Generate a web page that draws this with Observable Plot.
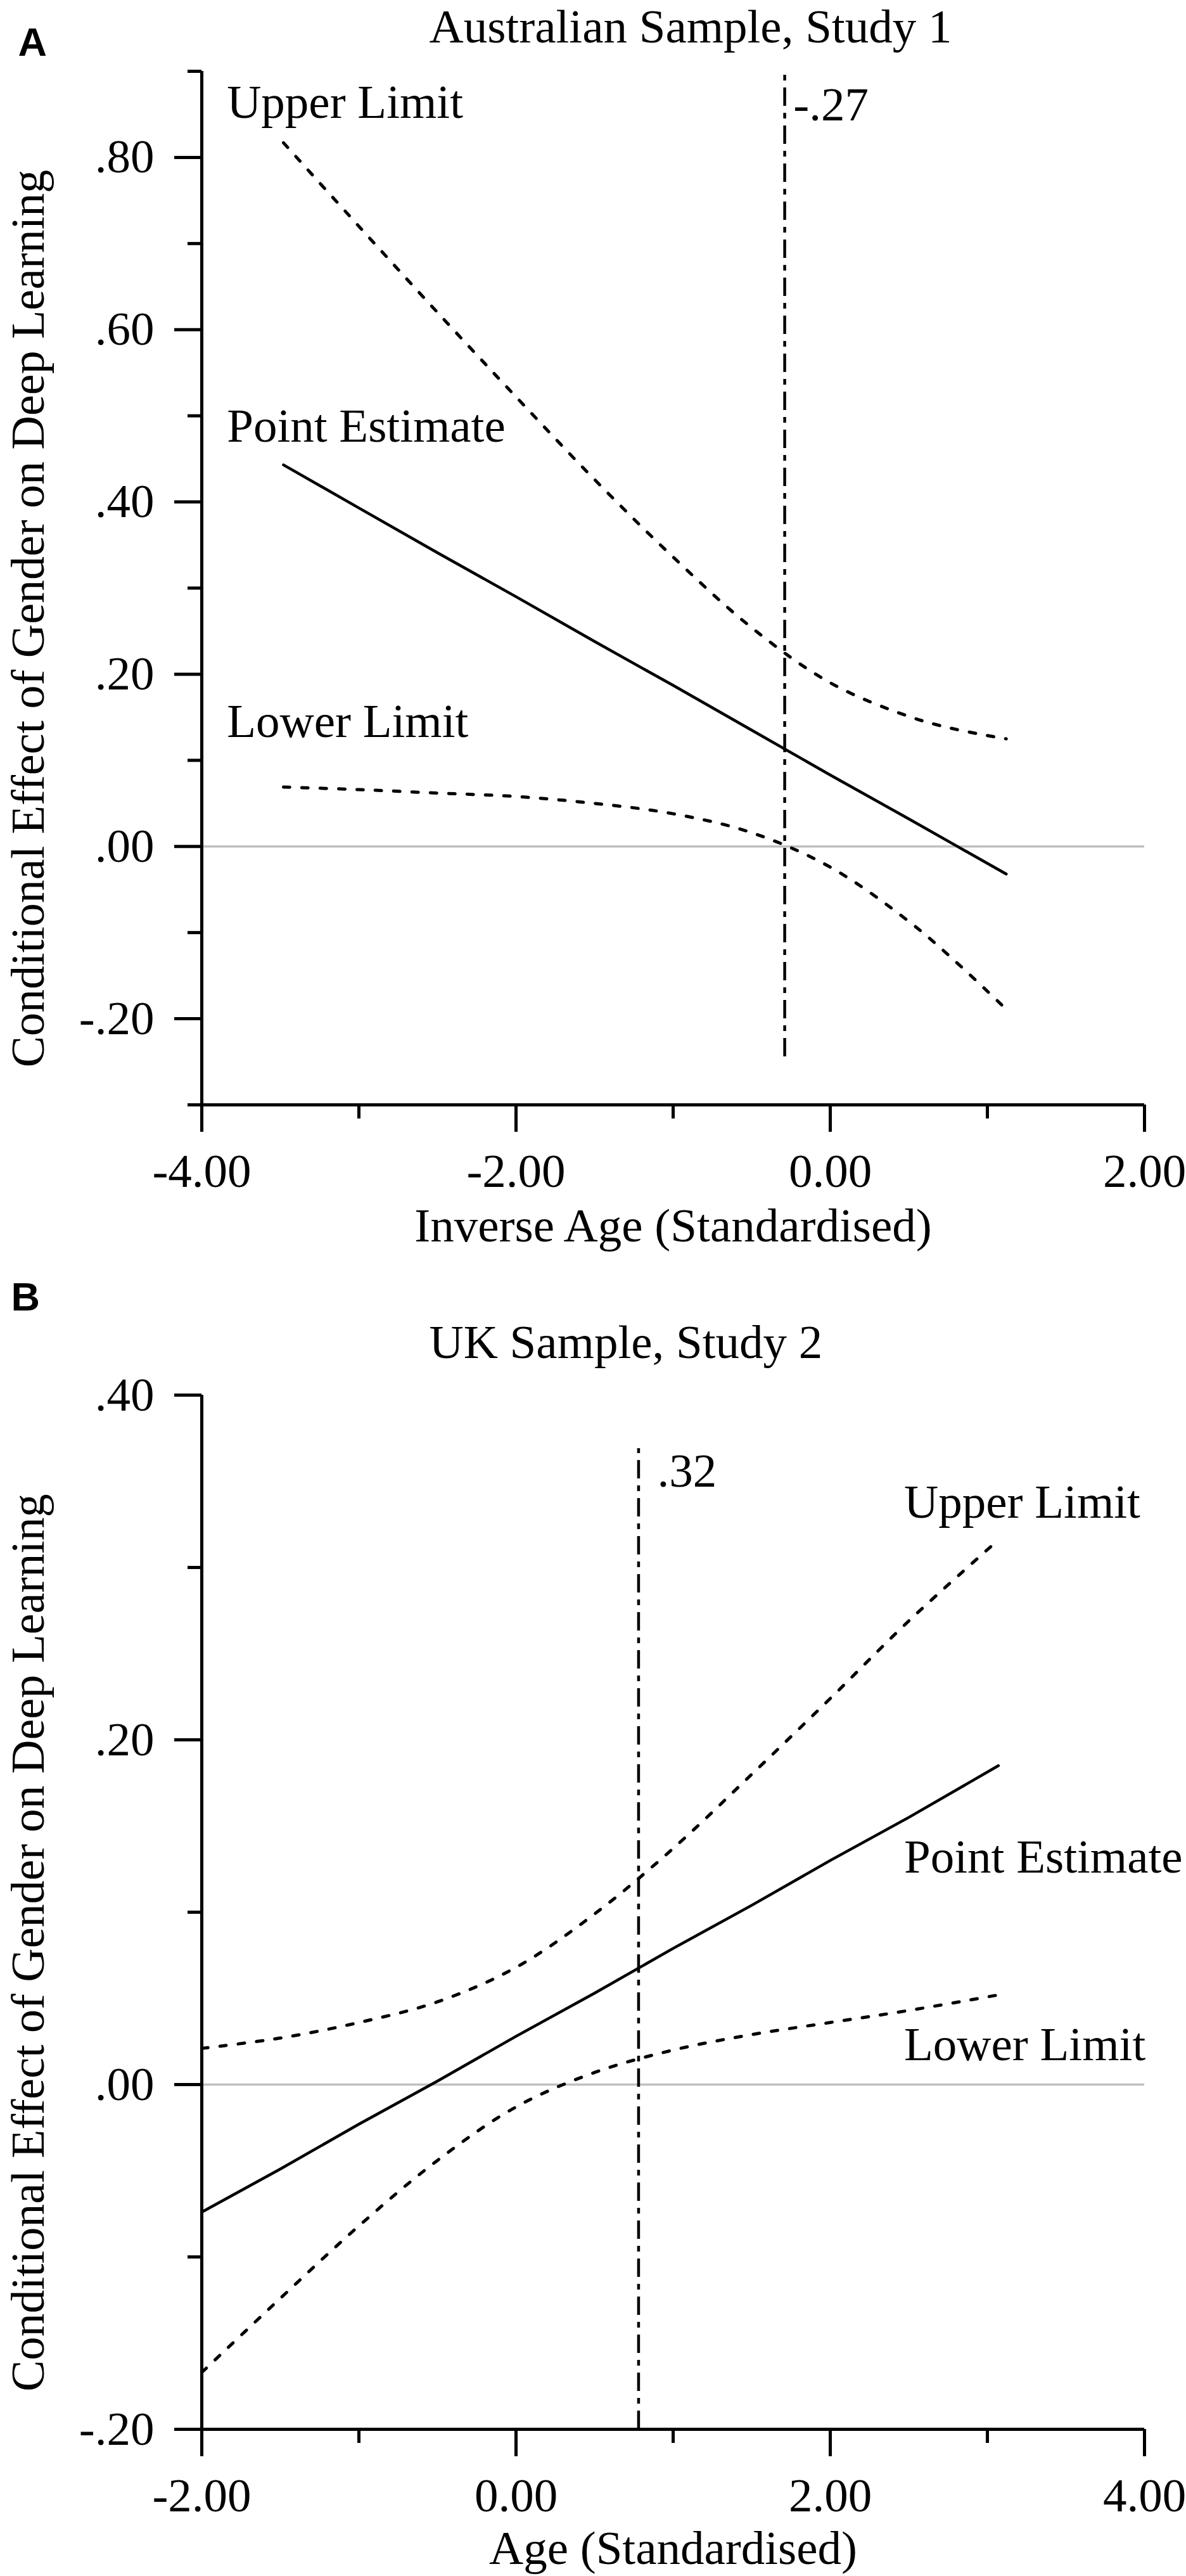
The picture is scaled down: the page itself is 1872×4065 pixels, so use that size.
<!DOCTYPE html>
<html>
<head>
<meta charset="utf-8">
<script src="https://cdn.jsdelivr.net/npm/d3@7"></script>
<script src="https://cdn.jsdelivr.net/npm/@observablehq/plot@0.6"></script>
<style>
  html, body { margin: 0; padding: 0; background: #ffffff; }
  #wrap { width: 1872px; }
  #wrap svg { display: block; }
</style>
</head>
<body>
<div id="wrap"></div>
<script>
// ---------- Panel A: Australian Sample, Study 1 ----------
const titleA = "Australian Sample, Study 1";
const xTitleA = "Inverse Age (Standardised)";
const xA      = [-3.48, -3.0, -2.5, -2.0, -1.5, -1.0, -0.5, 0.0, 0.5, 0.8, 1.12];
const pointA  = [0.443, 0.393, 0.341, 0.290, 0.238, 0.187, 0.135, 0.083, 0.032, 0.001, -0.032];
const upperA  = [0.817, 0.720, 0.620, 0.522, 0.426, 0.336, 0.254, 0.190, 0.151, 0.136, 0.125];
const lowerA  = [0.069, 0.066, 0.062, 0.058, 0.050, 0.038, 0.016, -0.024, -0.087, -0.134, -0.189];
const jnA     = [{x: -0.29, y1: -0.244, y2: 0.896}];
const labelsA = [
  {text: "Upper Limit",    x: -3.84, y: 0.846},
  {text: "Point Estimate", x: -3.84, y: 0.470},
  {text: "Lower Limit",    x: -3.84, y: 0.127},
  {text: "-.27",           x: -0.235, y: 0.843}
];
const xDomainA = [-4, 2];
const yDomainA = [-0.3, 0.9];
const xMajorA = [-4, -2, 0, 2];
const xMinorA = [-3, -1, 1];
const yMajorA = [-0.2, 0, 0.2, 0.4, 0.6, 0.8];
const yMinorA = [-0.3, -0.1, 0.1, 0.3, 0.5, 0.7, 0.9];

// ---------- Panel B: UK Sample, Study 2 ----------
const titleB = "UK Sample, Study 2";
const xTitleB = "Age (Standardised)";
const xB      = [-2.0, -1.5, -1.0, -0.5, 0.0, 0.5, 1.0, 1.5, 2.0, 2.5, 3.07];
const pointB  = [-0.074, -0.049, -0.023, 0.002, 0.028, 0.053, 0.079, 0.104, 0.130, 0.155, 0.185];
const upperB  = [0.021, 0.027, 0.036, 0.048, 0.068, 0.099, 0.137, 0.180, 0.224, 0.269, 0.316];
const lowerB  = [-0.167, -0.124, -0.082, -0.044, -0.013, 0.007, 0.020, 0.029, 0.036, 0.043, 0.052];
const jnB     = [{x: 0.78, y1: -0.2, y2: 0.369}];
const labelsB = [
  {text: "Upper Limit",    x: 2.47, y: 0.329},
  {text: "Point Estimate", x: 2.47, y: 0.123},
  {text: "Lower Limit",    x: 2.47, y: 0.014},
  {text: ".32",            x: 0.899, y: 0.347}
];
const xDomainB = [-2, 4];
const yDomainB = [-0.2, 0.4];
const xMajorB = [-2, 0, 2, 4];
const xMinorB = [-1, 1, 3];
const yMajorB = [-0.2, 0, 0.2, 0.4];
const yMinorB = [-0.1, 0.1, 0.3];

const yTitle = "Conditional Effect of Gender on Deep Learning";

const fmtY = d => d.toFixed(2).replace(/^(-?)0\./, "$1.");
const fmtX = d => d.toFixed(2);
const blank = () => "";
const SERIF = '"Liberation Serif", "Times New Roman", Times, serif';
const SANS = '"Liberation Sans", Arial, Helvetica, sans-serif';

function panel(cfg) {
  const toRows = ys => cfg.xs.map((x, i) => ({x, y: ys[i]}));
  const up = toRows(cfg.upper), lo = toRows(cfg.lower), pt = toRows(cfg.point);
  return Plot.plot({
    width: 1872,
    height: cfg.height,
    marginLeft: 318,
    marginRight: 66,
    marginTop: cfg.mt,
    marginBottom: cfg.mb,
    x: {domain: cfg.xDomain, axis: null},
    y: {domain: cfg.yDomain, axis: null},
    style: {fontFamily: SERIF, fontSize: "75px", background: "#ffffff", color: "#000000", overflow: "visible"},
    marks: [
      Plot.ruleY([0], {stroke: "#c0c0c0", strokeWidth: 3.5}),
      Plot.ruleX(cfg.jn, {x: "x", y1: "y1", y2: "y2", stroke: "#000", strokeWidth: 4.5, strokeDasharray: "29,11,9,11"}),
      Plot.line(up, {x: "x", y: "y", curve: "catmull-rom", stroke: "#000", strokeWidth: 5, strokeDasharray: "10,19"}),
      Plot.line(lo, {x: "x", y: "y", curve: "catmull-rom", stroke: "#000", strokeWidth: 5, strokeDasharray: "10,19"}),
      Plot.line(pt, {x: "x", y: "y", stroke: "#000", strokeWidth: 4.5}),
      Plot.ruleX([cfg.xDomain[0]], {y1: cfg.yDomain[0], y2: cfg.yDomain[1], stroke: "#000", strokeWidth: 5}),
      Plot.ruleY([cfg.yDomain[0]], {x1: cfg.xDomain[0], x2: cfg.xDomain[1], stroke: "#000", strokeWidth: 5}),
      Plot.axisY(cfg.yMinor, {tickSize: 22, tickFormat: blank, strokeWidth: 5, label: null}),
      Plot.axisY(cfg.yMajor, {tickSize: 43, tickPadding: 32, tickFormat: fmtY, strokeWidth: 5, label: null, fontSize: 75}),
      Plot.axisX(cfg.xMinor, {tickSize: 22, tickFormat: blank, strokeWidth: 5, label: null}),
      Plot.axisX(cfg.xMajor, {tickSize: 43, tickPadding: 33, tickFormat: fmtX, strokeWidth: 5, label: null, fontSize: 75}),
      Plot.text(cfg.labels, {x: "x", y: "y", text: "text", textAnchor: "start", lineAnchor: "bottom", fontSize: 75, fill: "#000"}),
      Plot.text([cfg.title], {text: d => d, frameAnchor: "top-left", dx: 359, dy: cfg.titleDy, textAnchor: "start", lineAnchor: "bottom", fontSize: 75, fill: "#000"}),
      Plot.text([cfg.letter], {text: d => d, frameAnchor: "top-left", dx: cfg.letterDx, dy: cfg.letterDy, textAnchor: "start", lineAnchor: "bottom", fontSize: 63, fontWeight: "bold", fontFamily: SANS, fill: "#000"}),
      Plot.text([yTitle], {text: d => d, frameAnchor: "left", rotate: -90, dx: -250, dy: 48, textAnchor: "middle", lineAnchor: "bottom", fontSize: 74, fill: "#000"}),
      Plot.text([cfg.xTitle], {text: d => d, frameAnchor: "bottom", dy: cfg.xTitleDy, textAnchor: "middle", lineAnchor: "bottom", fontSize: 75, fill: "#000"})
    ]
  });
}

const wrap = document.getElementById("wrap");
wrap.appendChild(panel({
  height: 2000, mt: 112, mb: 257,
  xs: xA, point: pointA, upper: upperA, lower: lowerA, jn: jnA, labels: labelsA,
  xDomain: xDomainA, yDomain: yDomainA, xMajor: xMajorA, xMinor: xMinorA, yMajor: yMajorA, yMinor: yMinorA,
  title: titleA, titleDy: -46, xTitle: xTitleA, xTitleDy: 215,
  letter: "A", letterDx: -290, letterDy: -25
}));
wrap.appendChild(panel({
  height: 2065, mt: 201, mb: 232,
  xs: xB, point: pointB, upper: upperB, lower: lowerB, jn: jnB, labels: labelsB,
  xDomain: xDomainB, yDomain: yDomainB, xMajor: xMajorB, xMinor: xMinorB, yMajor: yMajorB, yMinor: yMinorB,
  title: titleB, titleDy: -59, xTitle: xTitleB, xTitleDy: 212,
  letter: "B", letterDx: -301, letterDy: -134
}));
</script>
</body>
</html>
